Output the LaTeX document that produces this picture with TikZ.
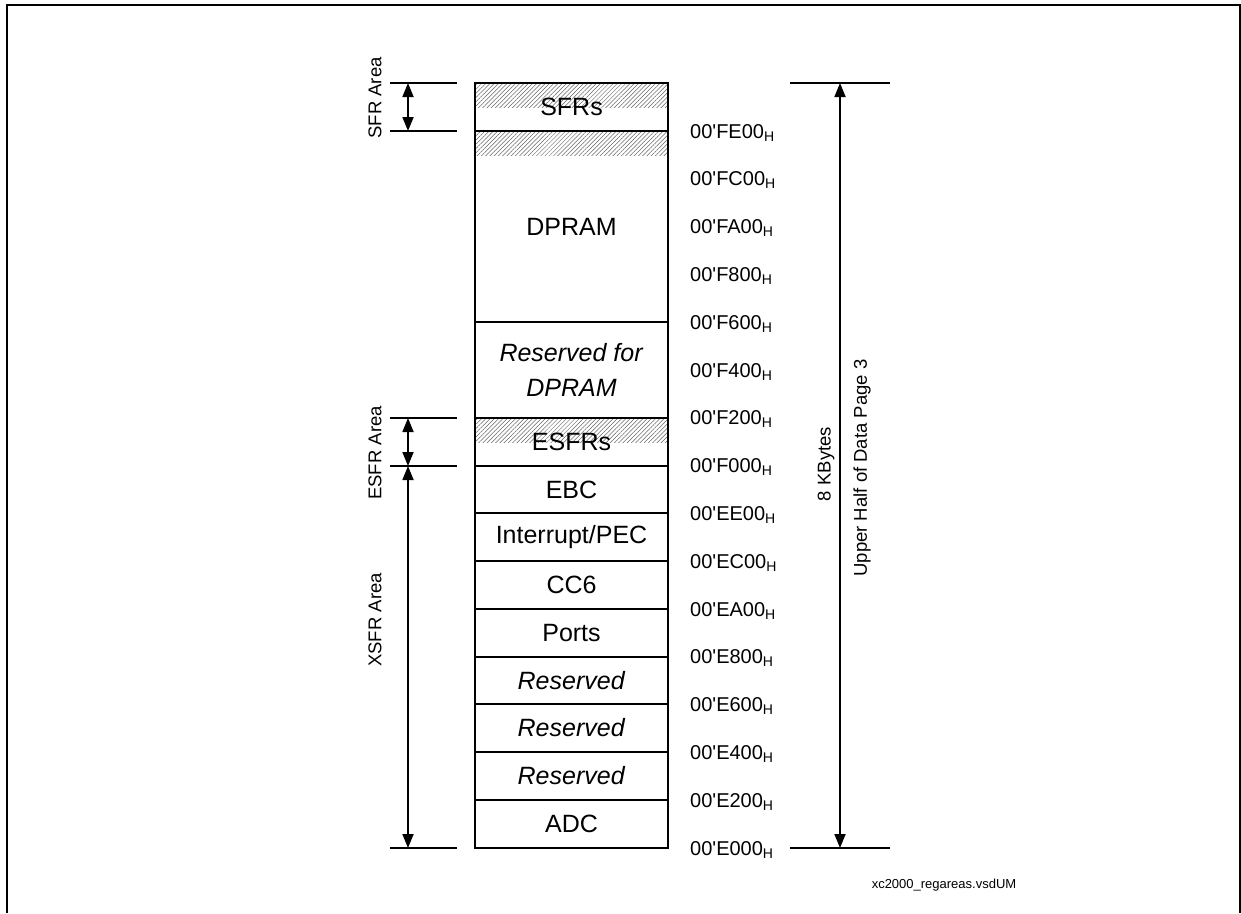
\documentclass[tikz,border=0pt]{standalone}
\usepackage{fontspec}
\setmainfont{Liberation Sans}
\usetikzlibrary{arrows.meta, patterns.meta, backgrounds, positioning}

\begin{document}
\begin{tikzpicture}[
    x=1pt, y=-1pt,
    cell/.style={rectangle, draw, line width=1.8pt, minimum width=193pt, inner sep=0pt, outer sep=0pt, anchor=north west, align=center, font=\fontsize{25}{35}\selectfont},
    addr/.style={anchor=base west, inner sep=0pt, font=\fontsize{20}{22}\selectfont},
    side/.style={rotate=90, inner sep=0pt, font=\fontsize{18.5}{21}\selectfont},
    tick/.style={line width=1.8pt},
    arrow/.style={{Triangle[length=14pt,width=11pt]}-{Triangle[length=14pt,width=11pt]}, line width=1.8pt},
    hatch/.style={pattern={Lines[angle=45,distance=3pt,line width=0.5pt]}, pattern color=black!60}
]
    \useasboundingbox (0,0) rectangle (1241,913);

    % Frame
    \draw[line width=1.8pt] (7,913) |- (1240,5) -- (1240,913);

    % Memory column
    \node[cell, minimum height=48pt] (sfr) at (475,83) {SFRs};
    \node[cell, minimum height=191pt, below=0pt of sfr] (dpram) {DPRAM};
    \node[cell, minimum height=96pt, below=0pt of dpram] (resdpram) {\textit{Reserved for}\\\textit{DPRAM}};
    \node[cell, minimum height=48pt, below=0pt of resdpram] (esfr) {ESFRs};
    \node[cell, minimum height=47pt, below=0pt of esfr] (ebc) {EBC};
    \node[cell, minimum height=48pt, below=0pt of ebc] (intpec) {Interrupt/PEC};
    \node[cell, minimum height=48pt, below=0pt of intpec] (cc6) {CC6};
    \node[cell, minimum height=48pt, below=0pt of cc6] (ports) {Ports};
    \node[cell, minimum height=47pt, below=0pt of ports] (resA) {\textit{Reserved}};
    \node[cell, minimum height=48pt, below=0pt of resA] (resB) {\textit{Reserved}};
    \node[cell, minimum height=48pt, below=0pt of resB] (resC) {\textit{Reserved}};
    \node[cell, minimum height=48pt, below=0pt of resC] (adc) {ADC};

    % Hatched parts
    \begin{scope}[on background layer]
        \fill[hatch] (sfr.north west) rectangle (sfr.east);
        \fill[hatch] (dpram.north west) rectangle ([yshift=-24pt]dpram.north east);
        \fill[hatch] (esfr.north west) rectangle (esfr.east);
    \end{scope}

    % Addresses
    \foreach \a [count=\i from 0] in {E000,E200,E400,E600,E800,EA00,EC00,EE00,F000,F200,F400,F600,F800,FA00,FC00,FE00}
        \node[addr] (a\a) at (690,{848+7-47.8*\i}) {00\textquotesingle\a\textsubscript{H}};

    % Left side areas
    \coordinate (sfrTop) at (408,83);
    \coordinate (sfrBot) at (408,131);
    \coordinate (esfrTop) at (408,418);
    \coordinate (esfrBot) at (408,466);
    \coordinate (xsfrBot) at (408,848);
    \foreach \c in {sfrTop,sfrBot,esfrTop,esfrBot,xsfrBot}
        \draw[tick] ([xshift=-18pt]\c) -- ([xshift=49pt]\c);
    \draw[arrow] (sfrTop) -- (sfrBot);
    \draw[arrow] (esfrTop) -- (esfrBot);
    \draw[arrow] (esfrBot) -- (xsfrBot);

    \node[side] (sfrlab) at (375,98) {SFR Area};
    \node[side] (esfrlab) at (375,453) {ESFR Area};
    \node[side] (xsfrlab) at (375,620) {XSFR Area};

    % Right side: whole page
    \coordinate (pgTop) at (840,83);
    \coordinate (pgBot) at (840,848);
    \foreach \c in {pgTop,pgBot}
        \draw[tick] ([xshift=-50pt]\c) -- ([xshift=50pt]\c);
    \draw[arrow] (pgTop) -- (pgBot);
    \node[side] (kbytes) at (826,464) {8 KBytes};
    \node[side] (page) at (862,468) {Upper Half of Data Page 3};

    % File name
    \node[font=\fontsize{13}{15}\selectfont] (fname) at (944,885) {xc2000\_regareas.vsdUM};
\end{tikzpicture}
\end{document}
